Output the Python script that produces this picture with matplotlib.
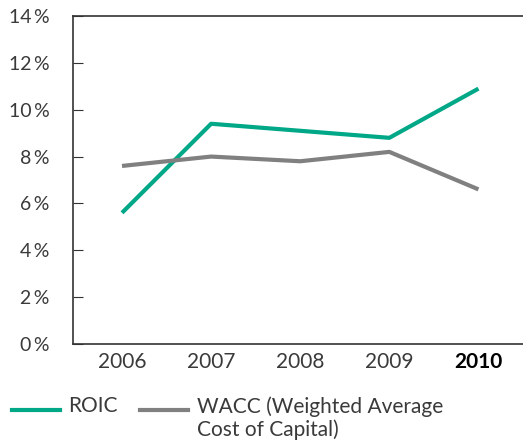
import matplotlib.pyplot as plt
from matplotlib.lines import Line2D

anos = ['2006', '2007', '2008', '2009', '2010']
roic = [5.6, 9.4, 9.1, 8.8, 10.9]
wacc = [7.6, 8.0, 7.8, 8.2, 6.6]
yticks = [0, 2, 4, 6, 8, 10, 12, 14]

verde = '#00A887'
cinza = '#808080'
texto = '#3a3a3a'

plt.rcParams['font.family'] = ['Lato', 'DejaVu Sans']

W, H = 523, 441
fig = plt.figure(figsize=(W / 100, H / 100), dpi=100)
ax = fig.add_axes([73 / W, 97 / H, 1 - 73 / W, 328 / H])

x = list(range(len(anos)))
ax.plot(x, roic, color=verde, lw=3, solid_capstyle='butt')
ax.plot(x, wacc, color=cinza, lw=3, solid_capstyle='butt')

ax.set_xlim(-0.55, 4.5)
ax.set_ylim(0, 14)
ax.set_yticks(yticks)
ax.set_yticklabels([f'{v}\u2009%' for v in yticks], fontsize=14, color=texto)
ax.set_xticks(x)
ax.set_xticklabels(anos, fontsize=15, color=texto)
ax.get_xticklabels()[-1].set_fontweight('bold')
ax.get_xticklabels()[-1].set_color('black')
ax.tick_params(axis='y', direction='in', length=7, color='#333333', pad=17)
ax.tick_params(axis='x', length=0, pad=6)
ax.spines['right'].set_visible(False)
for s in ['left', 'bottom', 'top']:
    ax.spines[s].set_color('#333333')
    ax.spines[s].set_linewidth(1.2)

# legenda montada a mao
def fx(px):
    return px / W

def fy(py):
    return 1 - py / H

itens = [(12, 60, 68, verde, 'ROIC'),
         (140, 188, 197, cinza, 'WACC (Weighted Average\nCost of Capital)')]
for x0, x1, xt, cor, nome in itens:
    fig.add_artist(Line2D([fx(x0), fx(x1)], [fy(410), fy(410)], color=cor, lw=3,
                          transform=fig.transFigure))
    fig.text(fx(xt), fy(396), nome, fontsize=15, color=texto, va='top', ha='left',
             linespacing=1.15)

fig.savefig('out.png', dpi=100)
